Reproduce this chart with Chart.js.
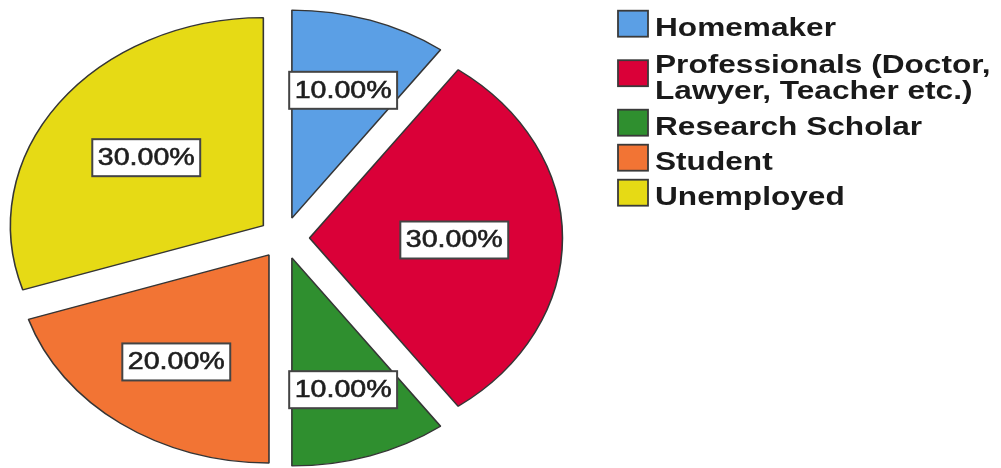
<!DOCTYPE html>
<html>
<head>
<meta charset="utf-8">
<script src="https://cdn.jsdelivr.net/npm/chart.js@4/dist/chart.umd.min.js"></script>
<style>
  html, body { margin: 0; padding: 0; background: #ffffff; }
  #wrap { width: 1001px; height: 468px; }
</style>
</head>
<body>
<div id="wrap"><canvas id="pie" width="1001" height="468"></canvas></div>
<script>
// Occupation categories and their share of respondents (%)
const categories = [
  'Homemaker',
  ['Professionals (Doctor,', 'Lawyer, Teacher etc.)'],
  'Research Scholar',
  'Student',
  'Unemployed'
];
const shares = [10, 30, 10, 20, 30];
const sliceColors = ['#5B9FE5', '#DA0038', '#2F8F2F', '#F27434', '#E6DA15'];

// Drawing parameters
const STRETCH = 1.216;   // horizontal stretch that turns the circle into an ellipse
const EXPLODE = 21;      // distance every slice is pulled out from the centre
const OUTLINE = '#353535';

// Moves each slice outward along its bisector and draws the pie stretched sideways,
// then puts a boxed percentage at each slice's centroid.
const ellipsePie = {
  id: 'ellipsePie',
  beforeDatasetsDraw(chart) {
    const a = chart.chartArea;
    const cx = (a.left + a.right) / 2, cy = (a.top + a.bottom) / 2;
    chart.getDatasetMeta(0).data.forEach(arc => {
      const mid = (arc.startAngle + arc.endAngle) / 2;
      arc.x = cx + Math.cos(mid) * EXPLODE;
      arc.y = cy + Math.sin(mid) * EXPLODE;
    });
    const ctx = chart.ctx;
    ctx.save();
    ctx.translate(cx, 0);
    ctx.scale(STRETCH, 1);
    ctx.translate(-cx, 0);
  },
  afterDatasetsDraw(chart) {
    const ctx = chart.ctx;
    ctx.restore();
    const a = chart.chartArea;
    const cx = (a.left + a.right) / 2;
    const ds = chart.data.datasets[0];
    const total = ds.data.reduce((s, v) => s + v, 0);
    const font = '23.5px "Liberation Sans", Arial, sans-serif';
    chart.getDatasetMeta(0).data.forEach((arc, i) => {
      const half = (arc.endAngle - arc.startAngle) / 2;
      const mid = (arc.startAngle + arc.endAngle) / 2;
      const rc = 2 * arc.outerRadius * Math.sin(half) / (3 * half);
      const px = arc.x + Math.cos(mid) * rc;
      const py = arc.y + Math.sin(mid) * rc;
      const x = cx + (px - cx) * STRETCH;
      const y = py + 2;
      const text = (ds.data[i] / total * 100).toFixed(2) + '%';
      ctx.save();
      ctx.font = font;
      const w = ctx.measureText(text).width * STRETCH + 11;
      const h = 37;
      ctx.fillStyle = '#ffffff';
      ctx.fillRect(x - w / 2, y - h / 2, w, h);
      ctx.lineWidth = 2;
      ctx.strokeStyle = '#444444';
      ctx.strokeRect(x - w / 2, y - h / 2, w, h);
      ctx.translate(x, y);
      ctx.scale(STRETCH, 1);
      ctx.fillStyle = '#1e1e1e';
      ctx.strokeStyle = '#1e1e1e';
      ctx.lineWidth = 0.6;
      ctx.textAlign = 'center';
      ctx.textBaseline = 'middle';
      ctx.fillText(text, 0, 1);
      ctx.strokeText(text, 0, 1);
      ctx.restore();
    });
  }
};

// Legend at the right: coloured swatch followed by (possibly two-line) label
const sideLegend = {
  id: 'sideLegend',
  afterDraw(chart) {
    const ctx = chart.ctx;
    const labels = chart.data.labels;
    const colors = chart.data.datasets[0].backgroundColor;
    const swX = 618, swW = 30, swH = 26, textX = 655;
    const lineGap = 26, singleH = 35, extraH = 29;
    let top = 23.7 - singleH / 2;
    ctx.save();
    ctx.font = 'bold 26px "Liberation Sans", Arial, sans-serif';
    ctx.textBaseline = 'alphabetic';
    labels.forEach((lab, i) => {
      const lines = Array.isArray(lab) ? lab : [lab];
      const n = lines.length;
      const itemH = singleH + (n - 1) * extraH;
      const cy = top + itemH / 2;
      ctx.fillStyle = colors[i];
      ctx.fillRect(swX, cy - swH / 2, swW, swH);
      ctx.lineWidth = 1.8;
      ctx.strokeStyle = '#3a3a3a';
      ctx.strokeRect(swX, cy - swH / 2, swW, swH);
      lines.forEach((ln, j) => {
        const base = cy + 12.5 - (n - 1) * lineGap / 2 + j * lineGap;
        ctx.save();
        ctx.translate(textX, base);
        ctx.scale(STRETCH, 1);
        ctx.fillStyle = '#1a1a1a';
        ctx.fillText(ln, 0, 0);
        ctx.restore();
      });
      top += itemH;
    });
    ctx.restore();
  }
};

new Chart(document.getElementById('pie'), {
  type: 'pie',
  data: {
    labels: categories,
    datasets: [{
      data: shares,
      backgroundColor: sliceColors,
      borderColor: OUTLINE,
      borderWidth: 1.3,
      clip: false
    }]
  },
  options: {
    responsive: false,
    devicePixelRatio: 1,
    animation: false,
    events: [],
    radius: 208,
    layout: { padding: { left: 0, right: 433, top: 8, bottom: 0 } },
    plugins: {
      legend: { display: false },
      tooltip: { enabled: false }
    }
  },
  plugins: [ellipsePie, sideLegend]
});
</script>
</body>
</html>
